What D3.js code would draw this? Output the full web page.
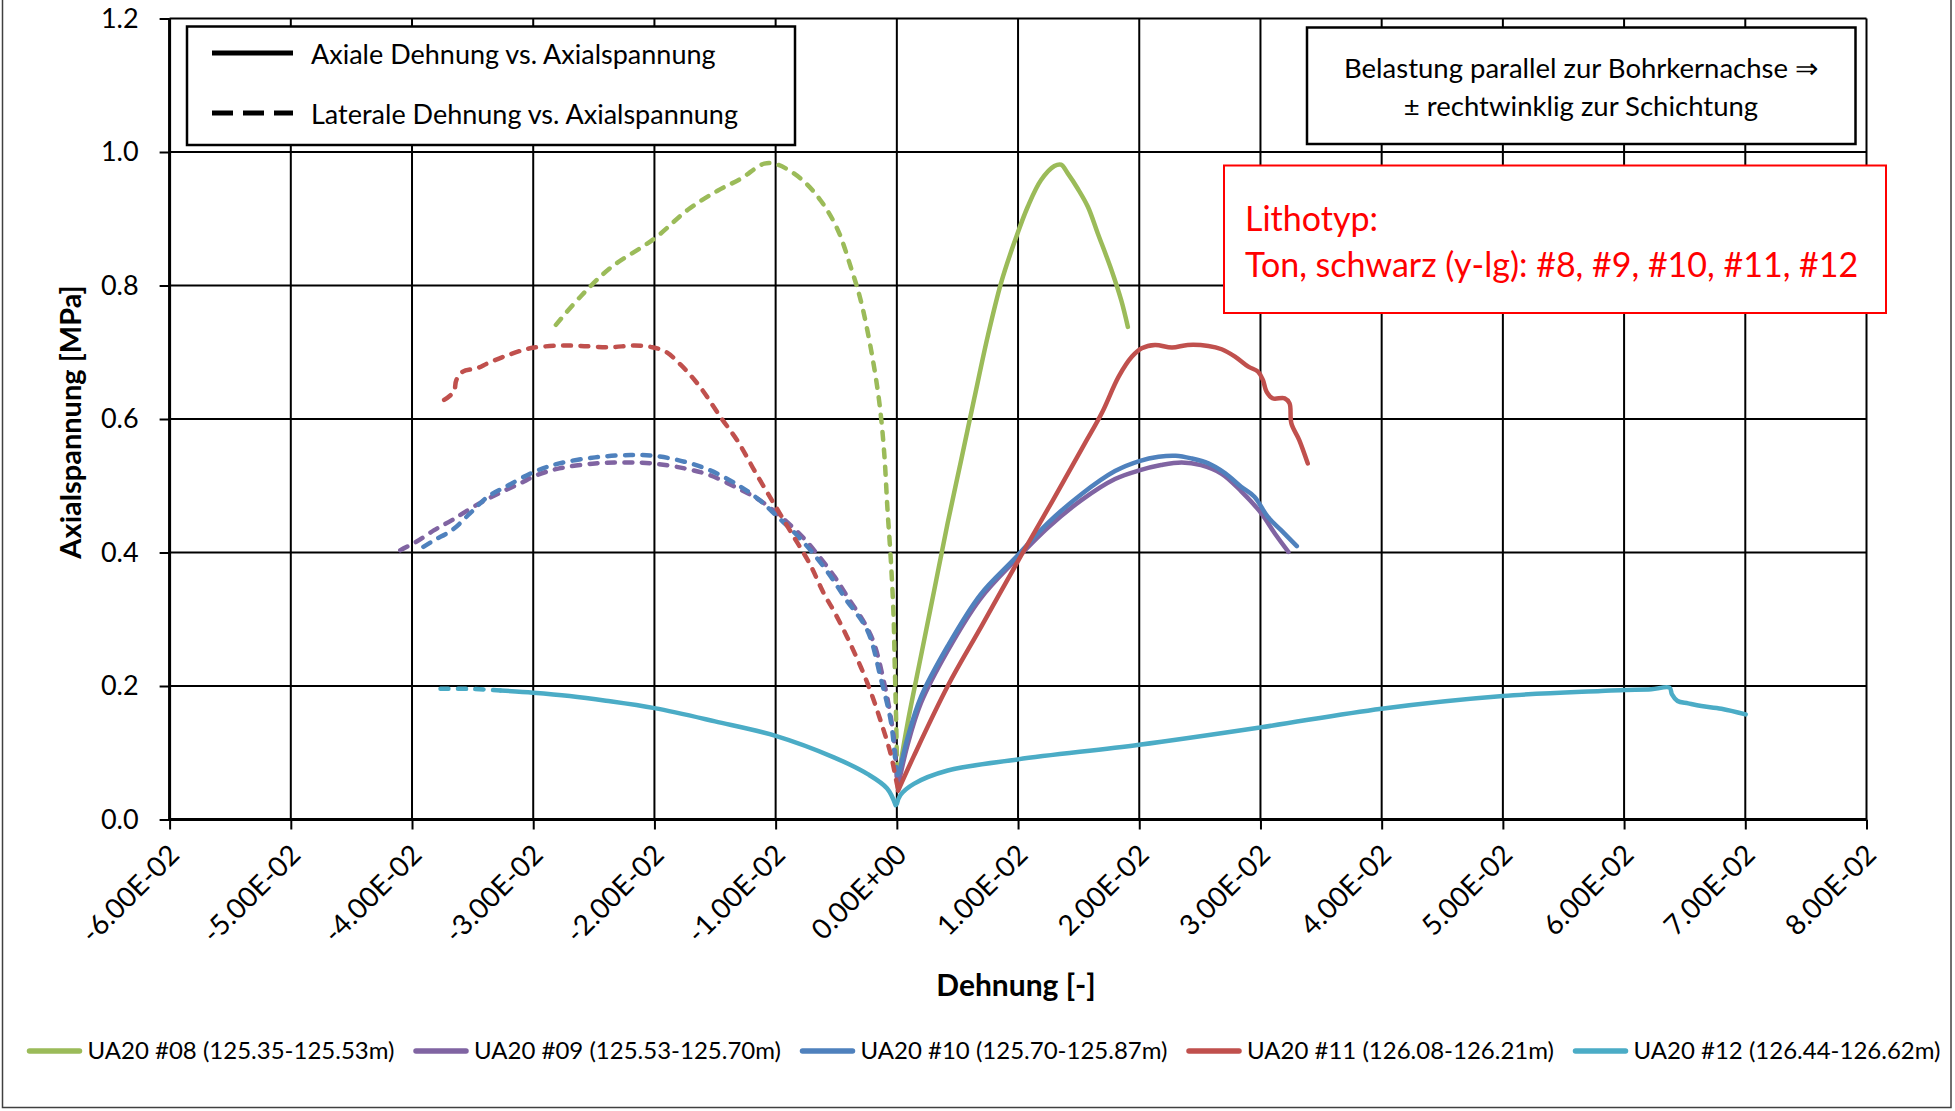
<!DOCTYPE html>
<html>
<head>
<meta charset="utf-8">
<script src="https://cdn.jsdelivr.net/npm/d3@7"></script>
<style>
  html, body { margin: 0; padding: 0; background: #fff; }
  svg { display: block; font-family: Lato, "Open Sans", sans-serif; }
</style>
</head>
<body>
<svg id="chart" width="1955" height="1111"></svg>
<script>
// ---- axis ticks ----
const xTicks = [-0.06, -0.05, -0.04, -0.03, -0.02, -0.01, 0, 0.01, 0.02, 0.03, 0.04, 0.05, 0.06, 0.07, 0.08];
const xTickLabels = ["-6.00E-02", "-5.00E-02", "-4.00E-02", "-3.00E-02", "-2.00E-02", "-1.00E-02", "0.00E+00",
                     "1.00E-02", "2.00E-02", "3.00E-02", "4.00E-02", "5.00E-02", "6.00E-02", "7.00E-02", "8.00E-02"];
const yTicks = [0, 0.2, 0.4, 0.6, 0.8, 1.0, 1.2];
const yTickLabels = ["0.0", "0.2", "0.4", "0.6", "0.8", "1.0", "1.2"];

// ---- specimens ----
const seriesNames = [
  "UA20 #08 (125.35-125.53m)",
  "UA20 #09 (125.53-125.70m)",
  "UA20 #10 (125.70-125.87m)",
  "UA20 #11 (126.08-126.21m)",
  "UA20 #12 (126.44-126.62m)"
];
const seriesColors = ["#9BBB59", "#8064A2", "#4F81BD", "#C0504D", "#4BACC6"];

// axial strain [-] vs. axial stress [MPa]
const axial08 = [[0.00006,0.057],[0.00088,0.1435],[0.00198,0.244],[0.00309,0.344],[0.00419,0.444],[0.00529,0.537],
  [0.00639,0.631],[0.0075,0.724],[0.0086,0.804],[0.0097,0.865],[0.0108,0.918],[0.0119,0.958],[0.013,0.979],
  [0.01355,0.981],[0.0141,0.968],[0.01493,0.945],[0.01576,0.918],[0.01658,0.878],[0.01769,0.824],[0.01851,0.778],[0.01906,0.738]];
const axial09 = [[0.0001,0.05],[0.0009,0.113],[0.002,0.175],[0.0042,0.253],[0.0069,0.331],[0.0097,0.387],[0.01245,0.437],
  [0.0152,0.478],[0.018,0.51],[0.02,0.523],[0.0218,0.531],[0.0235,0.535],[0.0251,0.531],[0.0268,0.518],[0.0284,0.492],
  [0.0301,0.458],[0.0312,0.428],[0.0323,0.401]];
const axial10 = [[0.0002,0.07],[0.0009,0.1235],[0.002,0.184],[0.0042,0.26],[0.0069,0.337],[0.0097,0.3905],[0.01245,0.444],
  [0.0152,0.487],[0.018,0.522],[0.02,0.537],[0.0216,0.5435],[0.023,0.545],[0.0243,0.541],[0.0257,0.5335],[0.0271,0.5185],
  [0.0284,0.4985],[0.0295,0.4835],[0.0306,0.4535],[0.0317,0.4335],[0.033,0.4095]];
const axial11 = [[0.0001,0.043],[0.0014,0.095],[0.0042,0.2],[0.007,0.29],[0.0103,0.397],[0.0128,0.476],[0.0155,0.563],
  [0.0169,0.6085],[0.0183,0.6635],[0.0194,0.6935],[0.0202,0.706],[0.0213,0.711],[0.0227,0.707],[0.024,0.711],[0.0257,0.7095],
  [0.0268,0.7045],[0.0279,0.6935],[0.029,0.6785],[0.0298,0.671],[0.0302,0.6585],[0.0305,0.641],[0.031,0.631],[0.032,0.631],
  [0.0324,0.6235],[0.03255,0.5935],[0.0332,0.5685],[0.0339,0.5335]];
const axial12 = [[0,0.0234],[0.0003,0.0367],[0.0014,0.0534],[0.0042,0.0734],[0.01,0.0901],[0.02,0.112],[0.03,0.138],
  [0.04,0.166],[0.05,0.185],[0.0581,0.1925],[0.06,0.194],[0.06225,0.195],[0.06375,0.1975],[0.06395,0.1875],[0.06441,0.1775],
  [0.06529,0.174],[0.06638,0.17],[0.06803,0.166],[0.07003,0.1575]];

// lateral strain [-] vs. axial stress [MPa]
const lateral08 = [[-0.02813,0.741],[-0.02607,0.784],[-0.02359,0.827],[-0.02002,0.87],[-0.01727,0.913],[-0.01479,0.942],
  [-0.01287,0.96],[-0.01094,0.9825],[-0.00984,0.981],[-0.00792,0.96],[-0.00627,0.927],[-0.00489,0.884],[-0.00379,0.827],
  [-0.00297,0.777],[-0.00214,0.705],[-0.00146,0.627],[-0.00105,0.551],[-0.00077,0.464],[-0.0005,0.39],[-0.00028,0.31],
  [-0.00017,0.23],[-0.00006,0.15],[0,0.097],[0.00005,0.057]];
const lateral09 = [[-0.04097,0.4035],[-0.03965,0.416],[-0.03817,0.4335],[-0.0367,0.4485],[-0.03493,0.4685],[-0.03286,0.4885],
  [-0.0308,0.506],[-0.02991,0.5145],[-0.02785,0.526],[-0.0249,0.5335],[-0.02254,0.535],[-0.02018,0.5335],[-0.01752,0.526],
  [-0.01546,0.516],[-0.0131,0.496],[-0.01133,0.4785],[-0.00956,0.4535],[-0.00779,0.4235],[-0.00661,0.3985],[-0.00513,0.3635],
  [-0.00425,0.3385],[-0.00214,0.2757],[-0.00104,0.204],[-0.00027,0.125],[0,0.06]];
const lateral10 = [[-0.03906,0.4085],[-0.03817,0.4185],[-0.0367,0.4335],[-0.03522,0.4585],[-0.03375,0.4835],[-0.03227,0.4985],
  [-0.02991,0.521],[-0.02785,0.5335],[-0.0249,0.5425],[-0.02195,0.546],[-0.01988,0.5445],[-0.01752,0.536],[-0.01546,0.5235],
  [-0.0131,0.501],[-0.01133,0.4785],[-0.00985,0.4535],[-0.00838,0.4285],[-0.0069,0.3985],[-0.00543,0.3635],[-0.00425,0.331],
  [-0.00242,0.2828],[-0.00132,0.211],[-0.00049,0.1468],[-0.00008,0.0824],[0.0001,0.065]];
const lateral11 = [[-0.03735,0.6285],[-0.03655,0.641],[-0.03634,0.6585],[-0.03581,0.671],[-0.03463,0.676],[-0.03375,0.6835],
  [-0.03227,0.6945],[-0.0308,0.7035],[-0.02991,0.707],[-0.02785,0.71],[-0.02608,0.7095],[-0.02372,0.7075],[-0.02165,0.71],
  [-0.02018,0.7075],[-0.019,0.7],[-0.01782,0.681],[-0.01693,0.6635],[-0.01605,0.6435],[-0.01457,0.6035],[-0.0131,0.566],
  [-0.01162,0.5185],[-0.01015,0.4735],[-0.00867,0.4285],[-0.0072,0.3835],[-0.00602,0.3385],[-0.00517,0.3115],[-0.00379,0.2614],
  [-0.00242,0.204],[-0.00132,0.1468],[-0.00049,0.0967],[-0.00008,0.0609],[0.0001,0.045]];
const lateral12 = [[-0.03765,0.196],[-0.035,0.1955],[-0.0327,0.1933],[-0.03,0.19],[-0.027,0.185],[-0.024,0.178],[-0.02,0.1668],
  [-0.015,0.147],[-0.01,0.1253],[-0.0052,0.0931],[-0.0024,0.068],[-0.0008,0.0465],[-0.0001,0.0215]];

const axialSets = [axial08, axial09, axial10, axial11, axial12];
const lateralSets = [lateral08, lateral09, lateral10, lateral11, lateral12];

// ---- layout ----
const plot = { left: 169.6, right: 1866.5, top: 18.5, bottom: 819.5 };

const svg = d3.select("#chart");

// chart frame
svg.append("rect")
  .attr("x", 2.5).attr("y", -4).attr("width", 1948.5).attr("height", 1111.5)
  .attr("fill", "#fff").attr("stroke", "#404040").attr("stroke-width", 1.5);

const x = d3.scaleLinear().domain([xTicks[0], xTicks[xTicks.length - 1]]).range([plot.left, plot.right]);
const y = d3.scaleLinear().domain([yTicks[0], yTicks[yTicks.length - 1]]).range([plot.bottom, plot.top]);

// gridlines
const grid = svg.append("g");
grid.selectAll("line.v").data(xTicks).join("line")
  .attr("x1", d => x(d)).attr("x2", d => x(d))
  .attr("y1", plot.top).attr("y2", plot.bottom)
  .attr("stroke", "#000").attr("stroke-width", 2);
grid.selectAll("line.h").data(yTicks).join("line")
  .attr("x1", plot.left).attr("x2", plot.right)
  .attr("y1", d => y(d)).attr("y2", d => y(d))
  .attr("stroke", "#000").attr("stroke-width", 2);

// axes
const xAxis = d3.axisBottom(x).tickValues(xTicks).tickSize(10).tickFormat((d, i) => xTickLabels[i]);
const yAxis = d3.axisLeft(y).tickValues(yTicks).tickSize(10).tickFormat((d, i) => yTickLabels[i]);

const gx = svg.append("g").attr("transform", `translate(0,${plot.bottom})`).call(xAxis);
gx.select(".domain").attr("stroke", "#000").attr("stroke-width", 3).attr("d", `M${plot.left},0H${plot.right}`);
gx.selectAll(".tick line").attr("stroke", "#000").attr("stroke-width", 2);
gx.selectAll(".tick text")
  .attr("font-family", "Lato, sans-serif")
  .attr("font-size", 28)
  .attr("fill", "#000")
  .attr("text-anchor", "end")
  .attr("dy", "0.35em")
  .attr("y", 0)
  .attr("transform", "translate(4,30) rotate(-45)");

const gy = svg.append("g").attr("transform", `translate(${plot.left},0)`).call(yAxis);
gy.select(".domain").attr("stroke", "#000").attr("stroke-width", 3).attr("d", `M0,${plot.top}V${plot.bottom}`);
gy.selectAll(".tick line").attr("stroke", "#000").attr("stroke-width", 2);
gy.selectAll(".tick text")
  .attr("font-family", "Lato, sans-serif")
  .attr("font-size", 27)
  .attr("fill", "#000")
  .attr("x", -31);

// axis titles
svg.append("text")
  .attr("transform", `translate(81,${(plot.top + plot.bottom) / 2 + 3}) rotate(-90)`)
  .attr("text-anchor", "middle")
  .attr("font-size", 29).attr("font-weight", "bold")
  .text("Axialspannung [MPa]");
svg.append("text")
  .attr("x", 1016).attr("y", 996)
  .attr("text-anchor", "middle")
  .attr("font-size", 30).attr("font-weight", "bold")
  .text("Dehnung [-]");

// curves
const line = d3.line()
  .x(d => x(d[0]))
  .y(d => y(d[1]))
  .curve(d3.curveCatmullRom.alpha(0.5));

const curves = svg.append("g")
  .attr("fill", "none")
  .attr("stroke-width", 4.5)
  .attr("stroke-linejoin", "round")
  .attr("stroke-linecap", "round");

const dash = "8,9.5";
seriesColors.forEach((color, i) => {
  const lat = lateralSets[i];
  if (i === 4) {
    // the densely sampled part of the last lateral trace renders as a continuous line
    const sparse = lat.filter(d => d[0] <= -0.0327);
    const dense = lat.filter(d => d[0] >= -0.0327);
    curves.append("path").attr("d", line(sparse)).attr("stroke", color).attr("stroke-dasharray", dash);
    curves.append("path").attr("d", line(dense)).attr("stroke", color);
  } else {
    curves.append("path").attr("d", line(lat)).attr("stroke", color).attr("stroke-dasharray", dash);
  }
  curves.append("path").attr("d", line(axialSets[i])).attr("stroke", color);
});

// line-style legend
const ls = svg.append("g");
ls.append("rect").attr("x", 187).attr("y", 26.5).attr("width", 608).attr("height", 118.5)
  .attr("fill", "#fff").attr("stroke", "#000").attr("stroke-width", 2.5);
ls.append("line").attr("x1", 212).attr("x2", 293).attr("y1", 53).attr("y2", 53)
  .attr("stroke", "#000").attr("stroke-width", 5);
ls.append("line").attr("x1", 212).attr("x2", 293).attr("y1", 113).attr("y2", 113)
  .attr("stroke", "#000").attr("stroke-width", 5).attr("stroke-dasharray", "21,10");
ls.append("text").attr("x", 311).attr("y", 64).attr("font-size", 27).text("Axiale Dehnung vs. Axialspannung");
ls.append("text").attr("x", 311).attr("y", 124).attr("font-size", 27).text("Laterale Dehnung vs. Axialspannung");

// loading direction note
const note = svg.append("g");
note.append("rect").attr("x", 1307).attr("y", 27.5).attr("width", 548.5).attr("height", 116.5)
  .attr("fill", "#fff").attr("stroke", "#000").attr("stroke-width", 2.5);
note.append("text").attr("x", 1581).attr("y", 78).attr("text-anchor", "middle").attr("font-size", 27.5)
  .text("Belastung parallel zur Bohrkernachse \u21D2");
note.append("text").attr("x", 1581).attr("y", 116).attr("text-anchor", "middle").attr("font-size", 27.5)
  .text("\u00B1 rechtwinklig zur Schichtung");

// lithotype box
const litho = svg.append("g");
litho.append("rect").attr("x", 1224).attr("y", 165.5).attr("width", 662).attr("height", 147.5)
  .attr("fill", "#fff").attr("stroke", "#FF0000").attr("stroke-width", 2);
litho.append("text").attr("x", 1245).attr("y", 231).attr("font-size", 34).attr("fill", "#FF0000").text("Lithotyp:");
litho.append("text").attr("x", 1245).attr("y", 277).attr("font-size", 34).attr("fill", "#FF0000")
  .text("Ton, schwarz (y-lg): #8, #9, #10, #11, #12");

// specimen legend
const leg = svg.append("g");
const legX0 = 27.5, legStep = 386.5, legY = 1051;
seriesNames.forEach((name, i) => {
  const gx0 = legX0 + i * legStep;
  leg.append("line").attr("x1", gx0 + 2).attr("x2", gx0 + 52).attr("y1", legY).attr("y2", legY)
    .attr("stroke", seriesColors[i]).attr("stroke-width", 5.5).attr("stroke-linecap", "round");
  leg.append("text").attr("x", gx0 + 60).attr("y", legY).attr("dy", "0.35em")
    .attr("font-size", 24).text(name);
});
</script>
</body>
</html>
